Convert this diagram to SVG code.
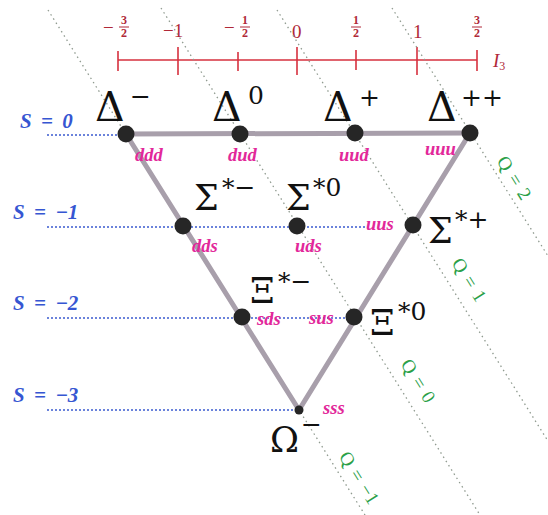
<svg xmlns="http://www.w3.org/2000/svg" width="548" height="515" viewBox="0 0 548 515">
<style>
.ax{stroke:#d6303e;stroke-width:1.6;fill:none}
.axl{font-family:"Liberation Serif",serif;fill:#b02838;font-size:19px}
.axs{font-family:"Liberation Serif",serif;fill:#b02838;font-size:12px;font-weight:bold;text-anchor:middle}
.ql{stroke:#8f9a8f;stroke-width:1.3;stroke-dasharray:1.5 3.5;fill:none}
.sl{stroke:#3b5bd0;stroke-width:1.5;stroke-dasharray:2 2;fill:none}
.edge{stroke:#a89fab;stroke-width:5;stroke-linecap:round;fill:none}
.dot{fill:#262626}
.g{font-family:"DejaVu Serif",serif;fill:#111;font-size:35px}
.gd{font-family:"DejaVu Serif",serif;fill:#111;font-size:41px}
.sup{font-family:"DejaVu Serif",serif;fill:#111;font-size:25px}
.qk{font-family:"Liberation Serif",serif;font-style:italic;font-weight:bold;fill:#e2289a;font-size:18.5px}
.s{font-family:"Liberation Serif",serif;font-style:italic;font-weight:bold;fill:#3656d2;font-size:21px;word-spacing:4px}
.q{font-family:"Liberation Serif",serif;fill:#2aa048;font-size:19px;text-anchor:middle;word-spacing:2px}
</style>

<g id="i3-axis">
<line class="ax" x1="118" y1="60" x2="477" y2="60"/>
<line class="ax" x1="118" y1="51" x2="118" y2="71"/>
<line class="ax" x1="178" y1="47" x2="178" y2="75"/>
<line class="ax" x1="238" y1="52" x2="238" y2="71"/>
<line class="ax" x1="297" y1="47" x2="297" y2="75"/>
<line class="ax" x1="356" y1="50" x2="356" y2="70"/>
<line class="ax" x1="417" y1="47" x2="417" y2="75"/>
<line class="ax" x1="477" y1="50" x2="477" y2="71"/>
<text class="axl" x="103" y="34">−</text>
<text class="axs" x="124" y="24">3</text><line x1="119" y1="27" x2="129" y2="27" stroke="#b02838" stroke-width="1"/><text class="axs" x="124" y="37">2</text>
<text class="axl" x="163" y="37">−1</text>
<text class="axl" x="224" y="34">−</text>
<text class="axs" x="245" y="24">1</text><line x1="240" y1="27" x2="250" y2="27" stroke="#b02838" stroke-width="1"/><text class="axs" x="245" y="37">2</text>
<text class="axl" x="292" y="38">0</text>
<text class="axs" x="356" y="24">1</text><line x1="351" y1="27" x2="361" y2="27" stroke="#b02838" stroke-width="1"/><text class="axs" x="356" y="37">2</text>
<text class="axl" x="413" y="38">1</text>
<text class="axs" x="477" y="24">3</text><line x1="472" y1="27" x2="482" y2="27" stroke="#b02838" stroke-width="1"/><text class="axs" x="477" y="37">2</text>
<text class="axl" x="493" y="67" font-style="italic">I<tspan font-size="12" dy="3" font-style="normal">3</tspan></text>
</g>

<g id="connectors">
<line class="ql" x1="48" y1="10" x2="365" y2="515"/>
<line class="ql" x1="161" y1="8" x2="480" y2="515"/>
<line class="ql" x1="277" y1="10" x2="548" y2="441"/>
<line class="ql" x1="392" y1="8" x2="548" y2="256"/>
<line class="sl" x1="47" y1="135" x2="122" y2="135"/>
<line class="sl" x1="47" y1="227" x2="366" y2="227"/>
<line class="sl" x1="47" y1="318" x2="353" y2="318"/>
<line class="sl" x1="47" y1="410" x2="299" y2="410"/>
<line class="edge" x1="126" y1="134" x2="470" y2="133"/>
<line class="edge" x1="126" y1="134" x2="299" y2="410"/>
<line class="edge" x1="470" y1="133" x2="299" y2="410"/>
</g>

<g id="s-labels">
<text class="s" x="20" y="128">S = 0</text>
<text class="s" x="13" y="219">S = −1</text>
<text class="s" x="13" y="310">S = −2</text>
<text class="s" x="13" y="402">S = −3</text>
</g>

<g id="q-labels">
<text class="q" transform="translate(514,178) rotate(58)" y="6">Q = 2</text>
<text class="q" transform="translate(469,280) rotate(58)" y="6">Q = 1</text>
<text class="q" transform="translate(418,381) rotate(58)" y="6">Q = 0</text>
<text class="q" transform="translate(359,478) rotate(58)" y="6">Q = −1</text>
</g>

<g id="delta-minus">
<circle class="dot" cx="126" cy="134" r="8.5"/>
<text class="gd" x="95" y="121">Δ</text><text class="sup" x="130" y="105">−</text>
<text class="qk" x="135" y="161">ddd</text>
</g>
<g id="delta-0">
<circle class="dot" cx="240" cy="134" r="8.5"/>
<text class="gd" x="212" y="121">Δ</text><text class="sup" x="248" y="104">0</text>
<text class="qk" x="228" y="161">dud</text>
</g>
<g id="delta-plus">
<circle class="dot" cx="355" cy="133" r="8.5"/>
<text class="gd" x="323" y="121">Δ</text><text class="sup" x="359" y="106">+</text>
<text class="qk" x="339" y="161">uud</text>
</g>
<g id="delta-plusplus">
<circle class="dot" cx="470" cy="133" r="8.5"/>
<text class="gd" x="427" y="121">Δ</text><text class="sup" x="461" y="106">++</text>
<text class="qk" x="425" y="155">uuu</text>
</g>
<g id="sigma-minus">
<circle class="dot" cx="183" cy="226" r="8.5"/>
<text class="g" x="194" y="210">Σ</text><text class="sup" x="222" y="196">*−</text>
<text class="qk" x="192" y="252">dds</text>
</g>
<g id="sigma-0">
<circle class="dot" cx="297" cy="226" r="8.5"/>
<text class="g" x="286" y="210">Σ</text><text class="sup" x="313" y="196">*0</text>
<text class="qk" x="295" y="252">uds</text>
</g>
<g id="sigma-plus">
<circle class="dot" cx="413" cy="225" r="8.5"/>
<text class="g" x="428" y="243">Σ</text><text class="sup" x="455" y="228">*+</text>
<text class="qk" x="366" y="230">uus</text>
</g>
<g id="xi-minus">
<circle class="dot" cx="242" cy="317" r="8.5"/>
<text class="g" x="250" y="303">Ξ</text><text class="sup" x="278" y="290">*−</text>
<text class="qk" x="257" y="325">sds</text>
</g>
<g id="xi-0">
<circle class="dot" cx="354" cy="317" r="8.5"/>
<text class="g" x="370" y="335">Ξ</text><text class="sup" x="398" y="320">*0</text>
<text class="qk" x="309" y="324">sus</text>
</g>
<g id="omega-minus">
<circle class="dot" cx="299" cy="410" r="4.5"/>
<text class="g" x="270" y="452">Ω</text><text class="sup" x="301" y="433">−</text>
<text class="qk" x="323" y="414">sss</text>
</g>
</svg>
